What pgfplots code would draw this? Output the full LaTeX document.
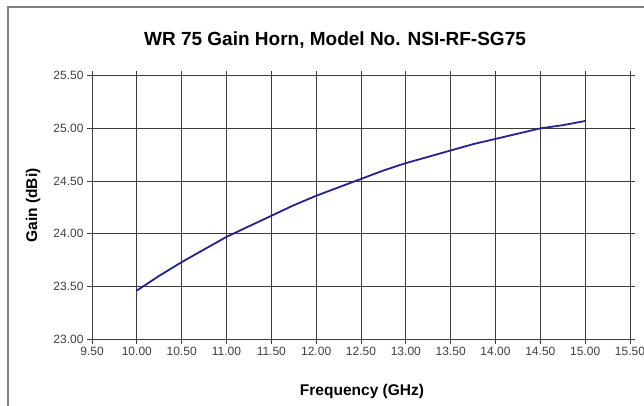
\documentclass[border=0pt]{standalone}
\usepackage{fontspec}
\setmainfont{Liberation Sans}
\usepackage{pgfplots}
\pgfplotsset{compat=1.18}
\definecolor{curve}{RGB}{35,35,145}
\definecolor{gridc}{RGB}{60,60,60}
\begin{document}
\begin{tikzpicture}[x=1pt,y=1pt]
\useasboundingbox (0,0) rectangle (644,406);
\fill[white] (0,0) rectangle (644,406);
\draw[gray,line width=1.2pt] (8,0) -- (8,399) -- (644,399);
\node[font=\fontsize{19}{22}\selectfont\bfseries, anchor=base] at (335,360) {WR 75 Gain Horn, Model No. NSI-RF-SG75};
\node[font=\fontsize{15.5}{18}\selectfont\bfseries, anchor=base] at (362,10) {Frequency (GHz)};
\node[font=\fontsize{15.5}{18}\selectfont\bfseries, rotate=90] at (33,200.5) {Gain (dBi)};
\begin{axis}[
  at={(92pt,67pt)}, anchor=south west,
  width=538pt, height=263.3pt, scale only axis,
  xmin=9.5, xmax=15.5, ymin=23, ymax=25.5,
  xtick={9.5,10,...,15.5},
  ytick={23,23.5,...,25.5},
  tick align=outside,
  major tick length=5pt,
  tick style={gridc, line width=0.9pt},
  grid=major,
  major grid style={gridc, line width=0.9pt},
  axis line style={gridc, line width=0.9pt},
  /pgf/number format/assume math mode=true,
  /pgf/number format/fixed,
  /pgf/number format/fixed zerofill,
  /pgf/number format/precision=2,
  /pgf/number format/use period,
  ticklabel style={font=\fontsize{12}{14}\selectfont, text=black!75},
]
\addplot[curve, line width=1.8pt] coordinates {
(10.00,23.46) (10.25,23.60) (10.50,23.73) (10.75,23.85) (11.00,23.97)
(11.25,24.07) (11.50,24.17) (11.75,24.27) (12.00,24.36) (12.25,24.44)
(12.50,24.52) (12.75,24.60) (13.00,24.67) (13.25,24.73) (13.50,24.79)
(13.75,24.85) (14.00,24.90) (14.25,24.95) (14.50,25.00) (14.75,25.03)
(15.00,25.07)
};
\end{axis}
\end{tikzpicture}
\end{document}
